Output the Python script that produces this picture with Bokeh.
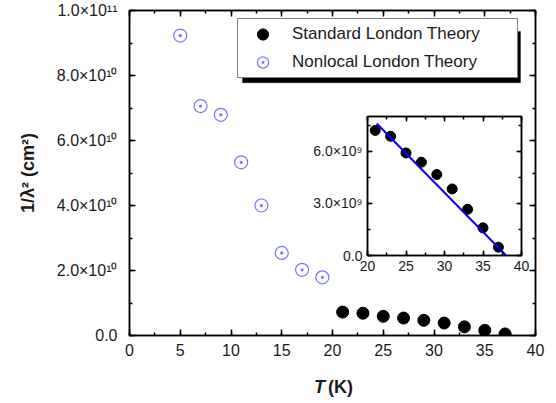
from bokeh.plotting import figure
from bokeh.models import (Legend, LegendItem, BoxAnnotation, Label, LinearAxis,
                          SingleIntervalTicker, Range1d, CustomJSTickFormatter)
from bokeh.layouts import column
from bokeh.embed import file_html
from bokeh.resources import INLINE

# ---------------- data ----------------
nonlocal_T = [5, 7, 9, 11, 13, 15, 17, 19]
nonlocal_inv = [92.3e9, 70.6e9, 67.9e9, 53.3e9, 40.0e9, 25.4e9, 20.2e9, 17.9e9]

standard_T = [21, 23, 25, 27, 29, 31, 33, 35, 37]
standard_inv = [7.2e9, 6.86e9, 5.9e9, 5.37e9, 4.66e9, 3.83e9, 2.66e9, 1.59e9, 0.48e9]

fit_T = [21.2, 38.0]
fit_inv = [7.6e9, 0.0]

main_y_ticks = [0, 20000000000, 40000000000, 60000000000, 80000000000, 100000000000]
main_y_labels = ["0.0", "2.0×10¹⁰", "4.0×10¹⁰", "6.0×10¹⁰", "8.0×10¹⁰", "1.0×10¹¹"]

inset_y_ticks = [0, 3000000000, 6000000000]
inset_y_labels = ["0.0", "3.0×10⁹", "6.0×10⁹"]

series_names = ["Standard London Theory", "Nonlocal London Theory"]
x_label_parts = ["T", "(K)"]

FONT = "Liberation Sans"
OPEN_COLOR = "#7575FF"
TXT = "#1a1a1a"
BLANK = CustomJSTickFormatter(code="return ''")


def style_ticks(ax, major_in=6, minor_in=3):
    ax.major_tick_in = major_in
    ax.major_tick_out = 0
    ax.minor_tick_in = minor_in
    ax.minor_tick_out = 0
    ax.axis_line_width = 1.5
    ax.major_tick_line_width = 1.5
    ax.minor_tick_line_width = 1.5
    ax.axis_line_color = "black"
    ax.major_tick_line_color = "black"
    ax.minor_tick_line_color = "black"


def mirror_axis(interval, major_in, minor_in):
    ax = LinearAxis(ticker=SingleIntervalTicker(interval=interval, num_minor_ticks=2),
                    formatter=BLANK, major_label_standoff=0,
                    major_label_text_font_size="10px")
    style_ticks(ax, major_in, minor_in)
    return ax


# ---------------- main figure ----------------
main = figure(width=556, height=403, x_range=Range1d(0, 40), y_range=Range1d(0, 1e11),
              output_backend="svg", toolbar_location=None,
              min_border_left=129, min_border_right=21, min_border_top=10, min_border_bottom=68)
main.grid.visible = False
main.outline_line_color = "black"
main.outline_line_width = 1.5

main.xaxis.ticker = SingleIntervalTicker(interval=5, num_minor_ticks=2)
main.yaxis.ticker = SingleIntervalTicker(interval=2e10, num_minor_ticks=2)
main.yaxis.major_label_overrides = dict(zip(main_y_ticks, main_y_labels))
for ax in (main.xaxis[0], main.yaxis[0]):
    style_ticks(ax)
    ax.major_label_text_font = FONT
    ax.major_label_text_font_size = "16px"
    ax.major_label_text_color = TXT
main.xaxis.major_label_standoff = 8
main.yaxis.major_label_standoff = 12
main.yaxis.axis_label = "1/λ² (cm²)"
main.yaxis.axis_label_text_font = FONT
main.yaxis.axis_label_text_font_size = "18px"
main.yaxis.axis_label_text_font_style = "bold"
main.yaxis.axis_label_text_color = TXT
main.yaxis.axis_label_standoff = 16

main.add_layout(mirror_axis(5, 6, 3), "above")
main.add_layout(mirror_axis(2e10, 6, 3), "right")

r_std = main.scatter(standard_T, standard_inv, marker="circle", size=12,
                     fill_color="black", line_color="black")
r_nl = main.scatter(nonlocal_T, nonlocal_inv, marker="circle_dot", size=13,
                    fill_color=None, line_color=OPEN_COLOR, line_width=1.2)

# legend with shadow
shadow = BoxAnnotation(left=113, right=391, top=304, bottom=252.7,
                       left_units="screen", right_units="screen",
                       top_units="screen", bottom_units="screen",
                       fill_color="black", fill_alpha=1.0, line_color="black")
main.add_layout(shadow)
legend = Legend(items=[LegendItem(label=series_names[0], renderers=[r_std]),
                       LegendItem(label=series_names[1], renderers=[r_nl])],
                location=(108, 257), padding=1, spacing=-6,
                glyph_width=47, glyph_height=28, label_height=20, label_width=224,
                label_standoff=6, label_text_font=FONT, label_text_font_size="17px",
                label_text_color=TXT, border_line_color="black", border_line_width=1,
                background_fill_color="white", background_fill_alpha=1.0, margin=0)
main.add_layout(legend)

# ---------------- x-axis title (mixed styles), small overlay figure ----------------
xt = figure(width=210, height=30, x_range=Range1d(0, 1), y_range=Range1d(0, 1),
            output_backend="svg", toolbar_location=None, sizing_mode="fixed",
            x_axis_location=None, y_axis_location=None,
            min_border_left=129, min_border_right=21, min_border_top=0, min_border_bottom=0)
xt.grid.visible = False
xt.outline_line_color = None
xt.background_fill_alpha = 0
xt.border_fill_alpha = 0
xt.add_layout(Label(x=28.5, y=15, x_units="screen", y_units="screen", text=x_label_parts[0],
                    text_font=FONT, text_font_size="18px", text_font_style="bold italic",
                    text_align="right", text_baseline="middle", text_color=TXT))
xt.add_layout(Label(x=31.5, y=15, x_units="screen", y_units="screen", text=x_label_parts[1],
                    text_font=FONT, text_font_size="18px", text_font_style="bold",
                    text_align="left", text_baseline="middle", text_color=TXT))
xt.styles = {"position": "absolute", "left": "167px", "top": "371px",
             "width": "210px", "height": "30px"}

# ---------------- inset figure ----------------
# (left/right borders get aligned with the main figure inside the column)
inset = figure(width=304, height=194, x_range=Range1d(20, 40), y_range=Range1d(0, 8e9),
               output_backend="svg", toolbar_location=None, sizing_mode="fixed",
               min_border_left=129, min_border_right=21, min_border_top=25, min_border_bottom=30)
inset.grid.visible = False
inset.outline_line_color = "black"
inset.outline_line_width = 1.5
inset.border_fill_alpha = 0
inset.background_fill_color = "white"
inset.xaxis.ticker = SingleIntervalTicker(interval=5, num_minor_ticks=2)
inset.yaxis.ticker = SingleIntervalTicker(interval=3e9, num_minor_ticks=2)
inset.yaxis.major_label_overrides = dict(zip(inset_y_ticks, inset_y_labels))
for ax in (inset.xaxis[0], inset.yaxis[0]):
    style_ticks(ax, 5, 3)
    ax.major_label_text_font = FONT
    ax.major_label_text_font_size = "14px"
    ax.major_label_text_color = TXT
    ax.major_label_standoff = 5
inset.add_layout(mirror_axis(5, 5, 3), "above")
inset.add_layout(mirror_axis(3e9, 5, 3), "right")

inset.scatter(standard_T, standard_inv, marker="circle", size=10,
              fill_color="black", line_color="black")
inset.line(fit_T, fit_inv, line_color="#0000EE", line_width=2)

inset.styles = {"position": "absolute", "left": "238px", "top": "91px",
                "width": "304px", "height": "194px"}

p = column(main, inset, xt)
open("out.html", "w").write(file_html(p, INLINE))
